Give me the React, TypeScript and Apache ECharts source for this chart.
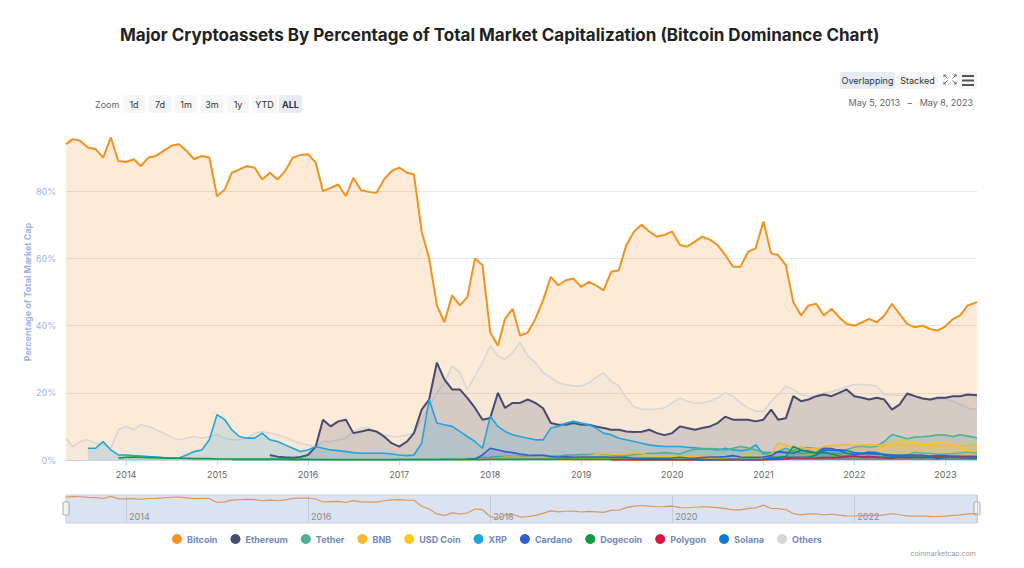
import React, { useEffect, useRef } from 'react';
import * as echarts from 'echarts';

const START_DATE = '2013-05-05';
const END_DATE = '2023-05-08';
// monthly category dates May 2013 .. May 2023
const months: string[] = (() => {
  const out: string[] = [];
  for (let i = 0; i <= 120; i++) {
    const y = 2013 + Math.floor((4 + i) / 12);
    const m = ((4 + i) % 12) + 1;
    out.push(`${y}-${m < 10 ? '0' + m : m}-01`);
  }
  out[0] = START_DATE;
  out[out.length - 1] = END_DATE;
  return out;
})();

const yearLabels = ['2014', '2015', '2016', '2017', '2018', '2019', '2020', '2021', '2022', '2023'];
const navigatorYears = ['2014', '2016', '2018', '2020', '2022'];
const yTicks = [0, 20, 40, 60, 80];

// values in %, starting month given per series
const bitcoin = [
  94, 95.5, 95, 93, 92.5, 90, 96, 89,
  88.7, 89.5, 87.5, 90, 90.5, 92, 93.5, 94, 92, 89.5, 90.5, 90,
  78.5, 80.5, 85.5, 86.5, 87.5, 87, 83.5, 85.5, 83.5, 86, 90, 90.8,
  91, 88.5, 80, 81, 82, 78.5, 84, 80.3, 79.8, 79.5, 83.5, 86,
  87, 85.5, 85, 68, 60, 46, 41, 49, 46, 48.5, 60, 58,
  38, 34, 42, 45, 37, 38, 42, 47.5, 54.5, 52, 53.5, 54,
  51.5, 53, 52, 50.5, 56, 56.5, 64, 68, 70, 68, 66.5, 67,
  68, 64, 63.5, 65, 66.5, 65.5, 64, 61, 57.5, 57.5, 62, 63,
  71, 61.5, 61, 58, 47, 43, 46, 46.5, 43, 45, 42.5, 40.5,
  40, 41, 42, 41, 43, 46.5, 43.5, 40.5, 39.5, 40, 39, 38.5,
  39.8, 42, 43, 46, 47,
];
const ethereumStart = '2015-08';
const ethereum = [
  1.5, 1, 0.8, 0.7, 0.9,
  1.5, 4, 12, 10, 11.5, 12, 8, 8.5, 9, 8.5, 7, 5,
  4, 5.5, 8, 15, 18, 29, 24, 21, 21, 18.5, 15.5, 12,
  12.5, 20, 15.5, 17, 17, 18, 17, 15.4, 11, 10.5, 10.5, 11,
  10.5, 10.5, 10, 9.5, 9, 9, 8.5, 8.3, 8.4, 9, 8, 7.4,
  8, 10, 9.5, 9, 9.5, 10, 11, 12.9, 12, 12, 12, 11.5,
  12, 15, 12, 12.4, 19, 17.5, 18, 19, 19.5, 19, 20, 21,
  19, 18.5, 18, 18.5, 18, 15, 16.5, 19.8, 19, 18.3, 18, 18.5,
  18.5, 19, 19, 19.5, 19.3,
];
const tetherStart = '2015-03';
const tether = [
  0.05, 0.05, 0.05, 0.05, 0.05, 0.05, 0.05, 0.05, 0.05, 0.05,
  0.05, 0.05, 0.05, 0.05, 0.05, 0.05, 0.05, 0.05, 0.05, 0.05, 0.05, 0.05,
  0.1, 0.1, 0.1, 0.1, 0.1, 0.1, 0.2, 0.3, 0.3, 0.4, 0.5, 0.7,
  0.8, 1, 1, 1.1, 1.2, 1.2, 1.3, 1.4, 1.2, 1.2, 1.5, 1.5,
  1.6, 1.6, 1.7, 1.8, 1.5, 1.2, 1.3, 1.6, 1.8, 2, 2, 2.2,
  2, 1.8, 2.6, 3.2, 3.3, 3.4, 3.3, 2.9, 3.5, 4, 3.6, 3,
  2.4, 2.2, 2.3, 2.5, 2.8, 3.7, 3.6, 3.4, 3.3, 2.9, 2.7, 3.1,
  3.8, 4.1, 3.8, 4.1, 5.5, 7.6, 7, 6.3, 6.8, 6.9, 7.1, 7.5,
  7.4, 7, 7.5, 7.1, 6.6,
];
const bnbStart = '2017-08';
const bnb = [
  0.05, 0.1, 0.1, 0.2, 0.3,
  0.3, 0.5, 0.9, 1.1, 0.9, 0.8, 0.7, 0.7, 0.8, 0.8, 0.9, 0.9,
  0.9, 1, 1.6, 2, 1.7, 1.7, 1.8, 2.1, 2, 1.2, 1.3, 1.1,
  1.1, 1, 1, 1.1, 1.1, 1, 1, 1.2, 1.2, 1.3, 1.6, 1.4,
  1.2, 1.6, 5, 4.5, 3.6, 3.8, 3.3, 3.4, 3.9, 4.4, 4.3, 4.6,
  4.3, 4.5, 4.5, 4.5, 4.2, 4.7, 4.4, 4.4, 4.3, 4.7, 4.4, 4.1,
  4.3, 4.3, 4.2, 4.3, 4.5,
];
const usdcStart = '2018-10';
const usdc = [
  0.1, 0.1, 0.2,
  0.2, 0.2, 0.2, 0.2, 0.2, 0.15, 0.15, 0.2, 0.2, 0.2, 0.2, 0.2,
  0.2, 0.2, 0.3, 0.4, 0.4, 0.5, 0.5, 0.5, 0.7, 1.0, 1.1, 0.8,
  0.5, 0.5, 0.6, 0.6, 0.8, 1.3, 1.7, 1.7, 1.4, 1.2, 1.3, 1.8,
  2.2, 2.4, 2.5, 2.6, 3.5, 4.8, 5.7, 5.5, 5.2, 4.8, 4.8, 5.5,
  5, 4.8, 3.8, 2.8, 2.6,
];
const xrpStart = '2013-08';
const xrp = [
  3.5, 3.5, 5.5, 3, 1.5,
  1.5, 1.3, 1.2, 1.0, 0.9, 0.7, 0.6, 0.6, 1.5, 2.5, 3, 6,
  13.5, 12, 9, 7, 6.5, 6.5, 8, 6, 5.5, 4.5, 3.5, 2.5,
  3, 4, 3.5, 3, 2.8, 2.5, 2.2, 2, 2, 2, 2, 1.8,
  1.5, 1.3, 1.5, 5, 18, 11, 10.5, 10, 8.5, 7, 5.5, 3.5,
  13, 10, 8.5, 7.5, 7, 6.5, 6, 6, 9.5, 10, 11, 11.5,
  11, 10.5, 9.5, 8, 7.5, 6.5, 6, 5.5, 5, 4.5, 4.2, 4,
  4, 4, 3.8, 3.6, 3.4, 3.2, 3, 3.5, 3, 2.8, 3, 4.5,
  1.8, 2, 2.5, 3.5, 2.5, 2, 1.8, 2.2, 2, 2, 1.9, 1.8,
  1.7, 1.7, 1.9, 1.8, 1.6, 1.5, 1.6, 1.5, 2.3, 2.1, 2.0, 1.7,
  1.8, 1.9, 2.1, 2.4, 2.2,
];
const cardanoStart = '2017-10';
const cardano = [
  0.3, 0.3, 1.5,
  3.5, 3, 2.5, 2.2, 1.8, 1.5, 1.4, 1.4, 1, 0.9, 1, 0.8,
  0.9, 0.9, 0.9, 0.9, 0.8, 0.8, 0.8, 0.5, 0.5, 0.5, 0.5, 0.5,
  0.6, 0.8, 0.6, 0.5, 0.7, 0.9, 0.9, 1.0, 1.3, 0.9, 0.8, 0.8,
  0.9, 1.3, 2.5, 2.2, 2.0, 2.9, 2.7, 2.1, 3.5, 3.4, 2.8, 2.0,
  1.7, 1.9, 2, 1.8, 1.7, 1.5, 1.3, 1.5, 1.4, 1.4, 1.2, 1.3,
  1.3, 1.0, 1.1, 1.1, 1.1,
];
const dogecoinStart = '2013-12';
const dogecoin = [
  0.6,
  0.8, 0.9, 0.8, 0.7, 0.7, 0.6, 0.5, 0.5, 0.5, 0.4, 0.4, 0.4,
  0.3, 0.3, 0.3, 0.3, 0.3, 0.3, 0.3, 0.3, 0.3, 0.3, 0.2, 0.2,
  0.2, 0.15, 0.15, 0.1, 0.1, 0.1, 0.1, 0.1, 0.1, 0.1, 0.1, 0.1,
  0.1, 0.1, 0.1, 0.1, 0.1, 0.1, 0.2, 0.1, 0.1, 0.1, 0.1, 0.1,
  0.2, 0.2, 0.2, 0.2, 0.2, 0.2, 0.2, 0.2, 0.2, 0.2, 0.3, 0.2,
  0.2, 0.2, 0.2, 0.2, 0.2, 0.2, 0.2, 0.1, 0.1, 0.1, 0.1, 0.1,
  0.1, 0.1, 0.1, 0.1, 0.1, 0.1, 0.1, 0.1, 0.1, 0.1, 0.1, 0.1,
  0.2, 0.8, 0.8, 1, 4, 3, 2.3, 2.2, 2.4, 1.8, 1.2, 1.1,
  1.1, 0.9, 0.9, 0.9, 0.8, 0.8, 0.8, 0.8, 0.8, 0.7, 0.8, 1,
  0.7, 0.8, 0.7, 0.7, 0.6,
];
const polygonStart = '2019-05';
const polygon = [
  0.02, 0.02, 0.02, 0.02, 0.02, 0.02, 0.02, 0.02,
  0.03, 0.03, 0.03, 0.02, 0.03, 0.05, 0.05, 0.05, 0.05, 0.03, 0.03, 0.03,
  0.05, 0.1, 0.2, 0.3, 0.7, 0.6, 0.6, 0.6, 0.7, 0.7, 0.7, 1.0,
  1.2, 0.9, 1, 0.8, 0.6, 0.5, 0.8, 0.7, 0.8, 0.8, 0.9, 0.8,
  0.9, 1.1, 1, 0.8, 0.8,
];
const solanaStart = '2020-04';
const solana = [
  0.01, 0.02, 0.03, 0.06, 0.15, 0.2, 0.15, 0.1, 0.15,
  0.2, 0.5, 0.5, 0.8, 0.8, 0.8, 0.8, 1.5, 2.9, 2.9, 3, 2.8,
  2.2, 2, 2.4, 2.2, 1.4, 1.1, 1.2, 1.3, 1.4, 1.3, 0.9, 0.4,
  0.8, 0.9, 0.8, 0.7, 0.7,
];
const others = [
  6.4, 4, 5.5, 6, 5, 4.5, 3.5, 9,
  10, 9, 10.5, 10, 9, 8, 6.8, 6, 6.5, 7, 6.5, 7,
  7.5, 6.5, 6, 6, 6.5, 8, 8.5, 8, 7.5, 6.8, 5.8, 5,
  4.5, 4, 5.5, 5.5, 6, 6.5, 8.5, 9.5, 9.5, 8.5, 7.5, 7,
  7, 7.5, 8, 12, 16, 20, 23, 28, 26, 21, 25, 29,
  34, 31, 30, 32, 35, 31, 29, 26, 24.5, 23, 22.5, 22,
  22, 23, 24.5, 26, 23.5, 22, 18.5, 15.8, 15.2, 15, 15.2, 15.5,
  17, 18.5, 17.5, 17, 17, 17.5, 18.5, 20, 19, 17, 15.5, 14.5,
  14.5, 17.5, 19.5, 22, 21, 19.5, 19, 19, 20, 20.3, 21, 21.8,
  22.5, 22.5, 22.3, 22, 19.5, 19.3, 19.3, 19.3, 19, 18.5, 17.8, 18,
  18.3, 17.5, 16.5, 15.5, 15,
];

const legendNames = ['Bitcoin', 'Ethereum', 'Tether', 'BNB', 'USD Coin', 'XRP', 'Cardano', 'Dogecoin', 'Polygon', 'Solana', 'Others'];
const colors: Record<string, string> = {
  Bitcoin: '#f2921f',
  Ethereum: '#474a6e',
  Tether: '#50af95',
  BNB: '#f3ba2f',
  'USD Coin': '#ffc61a',
  XRP: '#23a3dc',
  Cardano: '#2f5fd0',
  Dogecoin: '#0f9a44',
  Polygon: '#d8183d',
  Solana: '#0d78d4',
  Others: '#d6d6d6',
};

const startIndex = (ym: string) => months.findIndex((d) => d.startsWith(ym));
const align = (ym: string | null, vals: number[]) => {
  const s = ym ? startIndex(ym) : 0;
  return months.map((d, i) => [d, i >= s && i - s < vals.length ? vals[i - s] : null]);
};

const FONT = 'Inter, "Open Sans", sans-serif';
const YEAR_MS = 365 * 24 * 3600 * 1000;

export default function App() {
  const ref = useRef<HTMLDivElement>(null);
  useEffect(() => {
    document.body.style.margin = '0';
    if (!ref.current) return;
    const chart = echarts.init(ref.current, undefined, { renderer: 'svg' });

    const mk = (name: string, data: any[], width: number, z: number, fillOpacity = 0.18) => ({
      name,
      type: 'line',
      data,
      xAxisIndex: 0,
      yAxisIndex: 0,
      showSymbol: false,
      symbol: 'none',
      z,
      lineStyle: { color: colors[name], width },
      itemStyle: { color: colors[name] },
      areaStyle: { color: colors[name], opacity: fillOpacity },
      emphasis: { disabled: true },
    });

    const series: any[] = [
      mk('Bitcoin', align(null, bitcoin), 2, 2),
      mk('Others', align(null, others), 1.5, 3),
      mk('Ethereum', align(ethereumStart, ethereum), 2, 4),
      mk('XRP', align(xrpStart, xrp), 1.6, 5),
      mk('Tether', align(tetherStart, tether), 1.6, 6),
      mk('BNB', align(bnbStart, bnb), 1.6, 7),
      mk('USD Coin', align(usdcStart, usdc), 1.6, 8),
      mk('Cardano', align(cardanoStart, cardano), 1.6, 9),
      mk('Dogecoin', align(dogecoinStart, dogecoin), 1.6, 10),
      mk('Polygon', align(polygonStart, polygon), 1.6, 11),
      mk('Solana', align(solanaStart, solana), 1.6, 12),
      {
        name: 'navigator',
        type: 'line',
        xAxisIndex: 1,
        yAxisIndex: 1,
        data: align(null, bitcoin),
        showSymbol: false,
        symbol: 'none',
        lineStyle: { color: '#d99a58', width: 1.2 },
        emphasis: { disabled: true },
        z: 5,
      },
    ];

    const btn = (x: number, y: number, w: number, h: number, label: string, selected = false, bold = false) => ({
      type: 'group',
      children: [
        { type: 'rect', shape: { x, y, width: w, height: h, r: 2 }, style: { fill: selected ? '#e6ebf5' : '#f7f7f7' } },
        {
          type: 'text',
          x: x + w / 2,
          y: y + h / 2,
          style: { text: label, fill: '#333', font: `${bold ? 'bold ' : ''}9px ${FONT}`, align: 'center', verticalAlign: 'middle' },
        },
      ],
    });

    const option: any = {
      animation: false,
      backgroundColor: '#ffffff',
      textStyle: { fontFamily: FONT },
      title: {
        text: 'Major Cryptoassets By Percentage of Total Market Capitalization (Bitcoin Dominance Chart)',
        left: 115,
        top: 21,
        textStyle: { fontSize: 17, fontWeight: 'bold', color: '#222', fontFamily: FONT },
      },
      legend: {
        data: legendNames,
        bottom: 19,
        left: 167,
        icon: 'circle',
        itemWidth: 10,
        itemHeight: 10,
        itemGap: 13,
        textStyle: { color: '#7189bd', fontWeight: 'bold', fontSize: 9, fontFamily: FONT },
        selectedMode: false,
      },
      grid: [
        { left: 66, right: 47, top: 124, bottom: 108, containLabel: false },
        { left: 66, right: 47, top: 495, height: 28, show: true, backgroundColor: '#dbe2f1', borderColor: '#c9d0e0', borderWidth: 1 },
      ],
      xAxis: [
        {
          type: 'time',
          gridIndex: 0,
          min: START_DATE,
          max: END_DATE,
          minInterval: YEAR_MS,
          maxInterval: YEAR_MS * 1.01,
          splitNumber: 10,
          axisLine: { lineStyle: { color: '#ccd6eb' } },
          axisTick: { show: true, length: 6, lineStyle: { color: '#ccd6eb' } },
          axisLabel: {
            color: '#666',
            fontSize: 9,
            margin: 10,
            formatter: (v: number) => {
              const y = String(new Date(v).getFullYear());
              return yearLabels.includes(y) ? y : '';
            },
          },
          splitLine: { show: false },
        },
        {
          type: 'time',
          gridIndex: 1,
          min: START_DATE,
          max: END_DATE,
          minInterval: YEAR_MS,
          maxInterval: YEAR_MS * 1.01,
          splitNumber: 10,
          axisLine: { show: false },
          axisTick: { show: false },
          axisLabel: {
            inside: true,
            color: '#8a8a8a',
            fontSize: 9,
            align: 'left',
            padding: [0, 0, 0, 3],
            margin: 2,
            formatter: (v: number) => {
              const y = String(new Date(v).getFullYear());
              return navigatorYears.includes(y) ? y : '';
            },
          },
          splitLine: { show: true, lineStyle: { color: ['rgba(0,0,0,0)', '#c3cadb'] } },
        },
      ],
      yAxis: [
        {
          type: 'value',
          gridIndex: 0,
          min: 0,
          max: 100,
          interval: 20,
          name: 'Percentage of Total Market Cap',
          nameLocation: 'middle',
          nameGap: 34,
          nameMoveOverlap: false,
          nameTextStyle: { color: '#9db4e6', fontWeight: 'bold', fontSize: 9, fontFamily: FONT },
          axisLine: { show: false },
          axisTick: { show: false },
          axisLabel: {
            color: '#9db4e6',
            fontSize: 9,
            margin: 10,
            formatter: (v: number) => (yTicks.includes(v) ? v + '%' : ''),
          },
          splitLine: { lineStyle: { color: ['#e6e6e6', '#e6e6e6', '#e6e6e6', '#e6e6e6', '#e6e6e6', 'rgba(0,0,0,0)'] } },
        },
        { type: 'value', gridIndex: 1, min: 20, max: 100, show: false, splitLine: { show: false } },
      ],
      series,
      graphic: [
        { type: 'text', x: 95, y: 104, style: { text: 'Zoom', fill: '#666', font: `9px ${FONT}`, verticalAlign: 'middle' } },
        btn(123, 95, 22, 18, '1d'),
        btn(149, 95, 22, 18, '7d'),
        btn(175, 95, 22, 18, '1m'),
        btn(201, 95, 22, 18, '3m'),
        btn(227, 95, 22, 18, '1y'),
        btn(252, 95, 25, 18, 'YTD'),
        btn(279, 95, 23, 18, 'ALL', true, true),
        btn(840, 72, 55, 17, 'Overlapping', true),
        btn(897, 72, 41, 17, 'Stacked'),
        { type: 'rect', shape: { x: 959, y: 72, width: 18, height: 17, r: 2 }, style: { fill: '#f7f7f7' } },
        { type: 'rect', shape: { x: 962, y: 75, width: 12, height: 2 }, style: { fill: '#555' } },
        { type: 'rect', shape: { x: 962, y: 79.5, width: 12, height: 2 }, style: { fill: '#555' } },
        { type: 'rect', shape: { x: 962, y: 84, width: 12, height: 2 }, style: { fill: '#555' } },
        { type: 'polyline', shape: { points: [[944, 77], [944, 75], [946, 75]] }, style: { stroke: '#666', lineWidth: 1.2, fill: null } },
        { type: 'polyline', shape: { points: [[954, 75], [956, 75], [956, 77]] }, style: { stroke: '#666', lineWidth: 1.2, fill: null } },
        { type: 'polyline', shape: { points: [[944, 82], [944, 84], [946, 84]] }, style: { stroke: '#666', lineWidth: 1.2, fill: null } },
        { type: 'polyline', shape: { points: [[954, 84], [956, 84], [956, 82]] }, style: { stroke: '#666', lineWidth: 1.2, fill: null } },
        { type: 'line', shape: { x1: 945, y1: 76, x2: 947.5, y2: 78.5 }, style: { stroke: '#666', lineWidth: 1 } },
        { type: 'line', shape: { x1: 955, y1: 76, x2: 952.5, y2: 78.5 }, style: { stroke: '#666', lineWidth: 1 } },
        { type: 'line', shape: { x1: 945, y1: 83, x2: 947.5, y2: 80.5 }, style: { stroke: '#666', lineWidth: 1 } },
        { type: 'line', shape: { x1: 955, y1: 83, x2: 952.5, y2: 80.5 }, style: { stroke: '#666', lineWidth: 1 } },
        {
          type: 'text',
          x: 973,
          y: 102,
          style: { text: 'May 5, 2013   \u2013   May 8, 2023', fill: '#666', font: `9px ${FONT}`, align: 'right', verticalAlign: 'middle' },
        },
        { type: 'rect', shape: { x: 63, y: 502, width: 6, height: 13, r: 1 }, style: { fill: '#f2f2f2', stroke: '#999', lineWidth: 0.8 } },
        { type: 'rect', shape: { x: 974, y: 502, width: 6, height: 13, r: 1 }, style: { fill: '#f2f2f2', stroke: '#999', lineWidth: 0.8 } },
        {
          type: 'text',
          x: 976,
          y: 553,
          style: { text: 'coinmarketcap.com', fill: '#999', font: `7px ${FONT}`, align: 'right', verticalAlign: 'middle' },
        },
      ],
    };

    chart.setOption(option);
    return () => chart.dispose();
  }, []);

  return <div ref={ref} style={{ position: 'absolute', left: 0, top: 0, width: 1024, height: 568 }} />;
}
